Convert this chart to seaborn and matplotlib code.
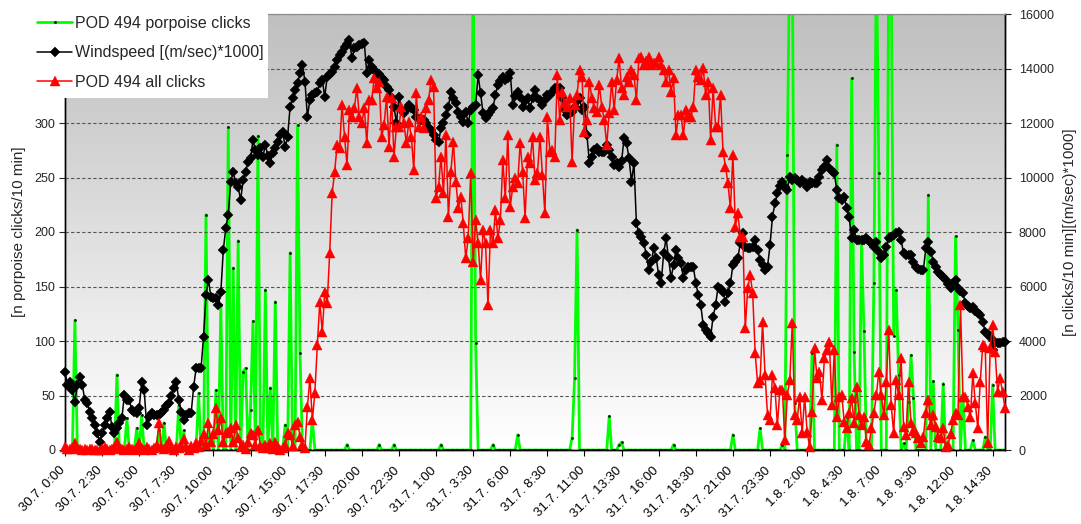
import numpy as np
import pandas as pd
import matplotlib
matplotlib.use("Agg")
import matplotlib.pyplot as plt
import matplotlib.transforms as mtransforms
import seaborn as sns
from matplotlib.colors import LinearSegmentedColormap
from matplotlib.patches import Rectangle
from matplotlib.lines import Line2D

# ---------------- data (10-minute intervals from 30.7. 0:00) ----------------
TICK_LABELS = ["30.7. 0:00", "30.7. 2:30", "30.7. 5:00", "30.7. 7:30", "30.7. 10:00",
               "30.7. 12:30", "30.7. 15:00", "30.7. 17:30", "30.7. 20:00", "30.7. 22:30",
               "31.7. 1:00", "31.7. 3:30", "31.7. 6:00", "31.7. 8:30", "31.7. 11:00",
               "31.7. 13:30", "31.7. 16:00", "31.7. 18:30", "31.7. 21:00", "31.7. 23:30",
               "1.8. 2:00", "1.8. 4:30", "1.8. 7:00", "1.8. 9:30", "1.8. 12:00", "1.8. 14:30"]

# POD 494 porpoise clicks [n/10 min] (left axis)
PORPOISE = [
    0, 0, 0, 0, 119, 0, 0, 0, 0, 0,
    0, 0, 0, 0, 0, 0, 0, 0, 0, 0,
    0, 69, 0, 0, 0, 29, 0, 0, 0, 20,
    0, 32, 0, 0, 0, 0, 0, 0, 18, 0,
    25, 0, 0, 0, 0, 0, 41, 0, 18, 0,
    0, 0, 0, 0, 52, 0, 0, 216, 0, 11,
    0, 55, 0, 133, 0, 0, 296, 0, 167, 0,
    192, 0, 72, 75, 0, 37, 118, 0, 288, 0,
    0, 147, 0, 57, 0, 136, 0, 0, 0, 23,
    0, 181, 0, 0, 298, 89, 0, 0, 0, 0,
    28, 0, 0, 0, 0, 0, 0, 0, 0, 0,
    0, 0, 0, 0, 5, 0, 0, 0, 0, 0,
    0, 0, 0, 0, 0, 0, 0, 5, 0, 0,
    0, 0, 0, 5, 0, 0, 0, 0, 0, 0,
    0, 0, 0, 0, 0, 0, 0, 0, 0, 0,
    0, 0, 5, 0, 0, 0, 0, 0, 0, 0,
    0, 0, 0, 0, 0, 460, 98, 0, 0, 0,
    0, 0, 0, 5, 0, 0, 0, 0, 0, 0,
    0, 0, 0, 14, 0, 0, 0, 0, 0, 0,
    0, 0, 0, 0, 0, 0, 0, 0, 0, 0,
    0, 0, 0, 0, 0, 11, 66, 202, 0, 0,
    0, 0, 0, 0, 0, 0, 0, 0, 0, 0,
    31, 0, 0, 0, 5, 7, 0, 0, 0, 0,
    0, 0, 0, 0, 0, 0, 0, 0, 0, 0,
    0, 0, 0, 0, 0, 0, 5, 0, 0, 0,
    0, 0, 0, 0, 0, 0, 0, 0, 0, 0,
    0, 0, 0, 0, 0, 0, 0, 0, 0, 0,
    14, 0, 0, 0, 0, 0, 0, 0, 0, 0,
    0, 20, 0, 0, 0, 0, 0, 0, 0, 0,
    5, 0, 271, 470, 470, 43, 0, 0, 0, 0,
    0, 0, 89, 0, 0, 0, 0, 0, 0, 0,
    0, 0, 280, 0, 0, 0, 30, 0, 341, 90,
    0, 0, 190, 109, 0, 0, 0, 153, 460, 254,
    0, 0, 0, 460, 440, 105, 147, 69, 0, 6,
    0, 44, 87, 48, 0, 0, 0, 0, 0, 234,
    0, 63, 0, 0, 0, 61, 0, 0, 0, 0,
    196, 110, 0, 50, 0, 0, 0, 9, 0, 0,
    0, 0, 12, 0, 0, 60, 0, 0, 0, 0,
    0]

# Windspeed [(m/sec)*1000] (right axis)
WIND = [
    2860, 2390, 2500, 2200, 1760, 2400, 2680, 2390, 1830, 1720,
    1400, 1170, 900, 620, 300, 620, 900, 1170, 1400, 840,
    620, 800, 990, 1170, 2020, 1830, 1830, 1470, 1400, 1360,
    1540, 2500, 2200, 920, 1200, 1360, 1300, 1280, 1300, 1360,
    1470, 1600, 1720, 2000, 2270, 2500, 1830, 1400, 1100, 1280,
    1360, 1360, 2310, 3000, 3000, 3000, 4150, 5690, 6240, 5610,
    5580, 5580, 5320, 5800, 7340, 8150, 8620, 9840, 10210, 9800,
    9660, 9170, 9900, 10200, 10580, 10700, 11380, 11000, 10830, 11080,
    10760, 11190, 10800, 10530, 10900, 11100, 11310, 11560, 11680, 11130,
    11500, 12600, 12900, 13210, 13460, 13820, 14130, 13520, 12230, 12850,
    13030, 13100, 13150, 13460, 13580, 12970, 13700, 13800, 13880, 14070,
    14310, 14500, 14620, 14800, 14900, 15050, 14380, 14740, 14800, 14860,
    14900, 14930, 13820, 14310, 14070, 13950, 13820, 13800, 13640, 13580,
    13330, 13210, 12900, 12600, 11990, 12970, 12500, 12360, 12480, 12660,
    12550, 12480, 12230, 12150, 12110, 12110, 11990, 11800, 11740, 11560,
    11380, 11310, 11810, 12000, 12290, 12600, 13150, 12900, 12720, 12400,
    12230, 12050, 12420, 11990, 12480, 12600, 12660, 13760, 13090, 12360,
    12170, 12300, 12420, 12540, 13030, 13400, 13550, 13700, 13580, 13640,
    13820, 12660, 13000, 13150, 12970, 12600, 12800, 12900, 12540, 12900,
    13210, 12900, 12850, 12660, 12850, 13030, 13030, 13150, 13270, 13270,
    13270, 12900, 12480, 12290, 12350, 12420, 12600, 12800, 12900, 12480,
    12600, 11560, 10520, 10760, 11010, 11070, 10950, 10950, 10950, 11190,
    11010, 10760, 10460, 10520, 10400, 10600, 11440, 11260, 10710, 9850,
    10520, 8320, 7950, 7800, 7590, 7160, 6610, 6900, 7400, 7040,
    6420, 6120, 7220, 7770, 7040, 6300, 6800, 7340, 7040, 6850,
    6300, 6610, 6730, 6730, 6730, 6120, 5700, 5320, 4590, 4400,
    4300, 4160, 4890, 5320, 5990, 5900, 5810, 5440, 5750, 6120,
    6790, 6900, 7040, 7590, 7950, 7460, 7400, 7400, 7460, 7710,
    7340, 6970, 6800, 6610, 6730, 7520, 8560, 9050, 9420, 9700,
    9850, 9660, 9540, 10030, 9910, 9970, 9900, 9790, 9910, 9800,
    9660, 9850, 9790, 9790, 9790, 10030, 10280, 10400, 10640, 10340,
    10250, 10150, 9540, 9240, 9170, 9300, 8870, 8560, 7770, 8070,
    7710, 7710, 7710, 7710, 7770, 7680, 7590, 7460, 7640, 7280,
    7040, 7160, 7460, 7770, 7830, 7890, 7950, 8010, 7710, 7220,
    7160, 7160, 7160, 6910, 6730, 6650, 6610, 6610, 7400, 7640,
    7280, 6910, 6730, 6550, 6420, 6360, 6240, 6100, 5930, 6120,
    6240, 5930, 5850, 5750, 5380, 5300, 5200, 5260, 5100, 5020,
    4950, 4710, 4340, 4250, 4160, 3670, 3970, 3940, 3910, 3970,
    3970]

# POD 494 all clicks [n/10 min] (right axis)
ALL_CLICKS = [
    100, 50, 30, 60, 250, 80, 20, 0, 30, 0,
    20, 40, 0, 10, 0, 30, 120, 40, 0, 20,
    60, 300, 80, 20, 0, 40, 100, 30, 0, 60,
    250, 40, 0, 100, 30, 0, 80, 200, 990, 120,
    50, 150, 330, 60, 0, 120, 60, 200, 400, 100,
    0, 150, 80, 250, 120, 330, 600, 180, 1000, 300,
    600, 1540, 720, 1160, 300, 620, 670, 800, 300, 920,
    430, 120, 200, 50, 310, 610, 550, 200, 730, 150,
    60, 180, 90, 250, 50, 310, 100, 0, 60, 200,
    610, 550, 150, 920, 1040, 490, 200, 60, 1590, 2640,
    1100, 2090, 3850, 5430, 4330, 5800, 5390, 7230, 9430, 10200,
    11190, 11080, 12660, 11500, 10460, 12480, 12230, 12550, 13280, 12230,
    12000, 12550, 11270, 12850, 12850, 13650, 13280, 13520, 11500, 11930,
    12970, 11130, 12900, 10760, 11870, 11870, 12600, 12000, 11260, 12050,
    11500, 10280, 13090, 11870, 12230, 11810, 12540, 12850, 13580, 13330,
    9240, 9660, 10760, 9420, 11560, 8560, 10210, 11310, 9850, 8870,
    9300, 8320, 7040, 7770, 10150, 6910, 8440, 7590, 6240, 8070,
    7590, 5320, 8070, 7590, 8810, 7770, 8440, 10640, 9240, 11560,
    8930, 9660, 9970, 9790, 11260, 10210, 8500, 10760, 10520, 11500,
    9910, 10150, 11500, 10090, 8680, 12230, 10950, 11010, 10760, 13760,
    12110, 13150, 12720, 12600, 12900, 10580, 12660, 13030, 13950, 13700,
    11680, 12110, 13520, 12900, 12540, 12420, 13400, 12600, 12110, 11190,
    12360, 13520, 12480, 13580, 14380, 13270, 13030, 13700, 13520, 13950,
    13760, 12850, 14380, 14440, 14130, 14260, 14440, 14130, 14190, 14190,
    14440, 14130, 13950, 13520, 13950, 13150, 13640, 11560, 12290, 12290,
    11560, 12480, 12230, 12230, 12600, 13950, 13700, 13580, 14010, 13030,
    13520, 11380, 13270, 11870, 11870, 13030, 10950, 10400, 9790, 8870,
    10830, 8200, 8690, 7830, 7830, 4470, 5930, 6420, 5750, 3550,
    2450, 2570, 4710, 2750, 1280, 1100, 2750, 2260, 920, 2200,
    2200, 370, 2020, 2570, 4650, 1280, 1100, 1960, 610, 1960,
    670, 120, 1410, 3730, 2630, 2870, 1840, 3370, 3670, 3970,
    1650, 3670, 1220, 1960, 2020, 1040, 800, 1350, 1900, 980,
    2320, 1280, 920, 1220, 300, 180, 800, 1350, 2020, 2870,
    2020, 1280, 2500, 4400, 1650, 610, 2570, 2020, 3370, 860,
    550, 2510, 980, 700, 610, 430, 250, 490, 1350, 1840,
    920, 1280, 860, 490, 430, 800, 120, 180, 600, 1100,
    1350, 1280, 5320, 1960, 1960, 1590, 1220, 2810, 1710, 800,
    2510, 3850, 3790, 250, 3730, 4590, 3610, 2140, 2630, 2140,
    1530]

LABEL_PORPOISE = "POD 494 porpoise clicks"
LABEL_WIND = "Windspeed [(m/sec)*1000]"
LABEL_ALL = "POD 494 all clicks"

# ---------------- plotting ----------------
W, H = 1081, 524
sns.set_style("ticks")
plt.rcParams["font.family"] = ["Liberation Sans", "DejaVu Sans"]

step = np.arange(len(WIND))
df = pd.DataFrame({"step": step, "porpoise": PORPOISE, "wind": WIND, "all": ALL_CLICKS})

fig = plt.figure(figsize=(W / 100, H / 100), dpi=100)
ax = fig.add_axes([65 / W, 1 - 450 / H, 940 / W, 436 / H])
ax2 = ax.twinx()

n_last = len(WIND) - 1

# background gradient (grey at top -> white at bottom)
cmap = LinearSegmentedColormap.from_list("bg", ["#ffffff", "#bfbfbf"])
grad = np.linspace(0, 1, 256).reshape(-1, 1)
ax.imshow(grad, extent=(0, n_last, 0, 400), origin="lower", aspect="auto",
          cmap=cmap, zorder=0, interpolation="bilinear")

G_STYLE = dict(color="#00ff00", linewidth=2.0, marker="o", markersize=1.6,
               markerfacecolor="black", markeredgecolor="black", markeredgewidth=0.3)
K_STYLE = dict(color="black", linewidth=1.1, marker="D", markersize=4.8,
               markerfacecolor="black", markeredgecolor="black", markeredgewidth=0.3)
R_STYLE = dict(color="#ff0000", linewidth=1.1, marker="^", markersize=7,
               markerfacecolor="#ff0000", markeredgecolor="#ff0000", markeredgewidth=0.3)

sns.lineplot(data=df, x="step", y="porpoise", ax=ax, errorbar=None, legend=False,
             zorder=2, **G_STYLE)
sns.lineplot(data=df, x="step", y="wind", ax=ax2, errorbar=None, legend=False,
             clip_on=False, zorder=3, **K_STYLE)
sns.lineplot(data=df, x="step", y="all", ax=ax2, errorbar=None, legend=False,
             clip_on=False, zorder=4, **R_STYLE)

ax.set_xlim(0, n_last)
ax.set_ylim(0, 400)
ax2.set_ylim(0, 16000)

# grid
ax.set_yticks(np.arange(0, 401, 50))
ax.set_yticklabels([str(v) if v <= 300 else "" for v in range(0, 401, 50)])
ax.yaxis.grid(True, linestyle=(0, (3, 2)), color="#555555", linewidth=0.8)
ax.xaxis.grid(False)
ax.set_axisbelow(False)
for gl in ax.get_ygridlines():
    gl.set_zorder(1)

ax2.set_yticks(np.arange(0, 16001, 2000))
ax2.set_yticklabels([str(v) for v in range(0, 16001, 2000)])

ax.tick_params(axis="x", direction="out", length=4, width=0.8, labelsize=9.5, pad=5, colors="black")
ax.tick_params(axis="y", direction="out", length=4, width=0.8, labelsize=9, pad=3)
ax2.tick_params(axis="y", direction="out", length=4, width=0.8, labelsize=9, pad=6)

ax.set_xticks(np.arange(0, 15 * len(TICK_LABELS), 15))
ax.set_xticklabels(TICK_LABELS, rotation=45, ha="right", rotation_mode="anchor")
offset = mtransforms.ScaledTranslation(-6 / 100, -2 / 100, fig.dpi_scale_trans)
for lbl in ax.get_xticklabels():
    lbl.set_transform(lbl.get_transform() + offset)

ax.set_xlabel("")
ax.set_ylabel("[n porpoise clicks/10 min]", fontsize=11)
ax2.set_ylabel("[n clicks/10 min][(m/sec)*1000]", fontsize=11)
ax.yaxis.set_label_coords(-0.042, 0.5)
ax2.yaxis.set_label_coords(1.062, 0.5)

for a in (ax, ax2):
    for side in ("left", "right", "bottom"):
        a.spines[side].set_color("black")
        a.spines[side].set_linewidth(1.0)
    a.spines["top"].set_color("#8c8c8c")
    a.spines["top"].set_linewidth(0.8)

# legend panel (white box at top-left)
fig.add_artist(Rectangle((0, 1 - 98 / H), 268 / W, 98 / H, transform=fig.transFigure,
                         facecolor="white", edgecolor="none", zorder=10))
handles = [Line2D([], [], **G_STYLE), Line2D([], [], **K_STYLE), Line2D([], [], **R_STYLE)]
leg = fig.legend(handles, [LABEL_PORPOISE, LABEL_WIND, LABEL_ALL], loc="upper left",
                 bbox_to_anchor=(37 / W, 1 - 16 / H), frameon=False, fontsize=11.5,
                 handlelength=2.2, handletextpad=0.2, labelspacing=0.9, borderpad=0,
                 borderaxespad=0)
leg.set_zorder(11)

fig.savefig("out.png", dpi=100)
